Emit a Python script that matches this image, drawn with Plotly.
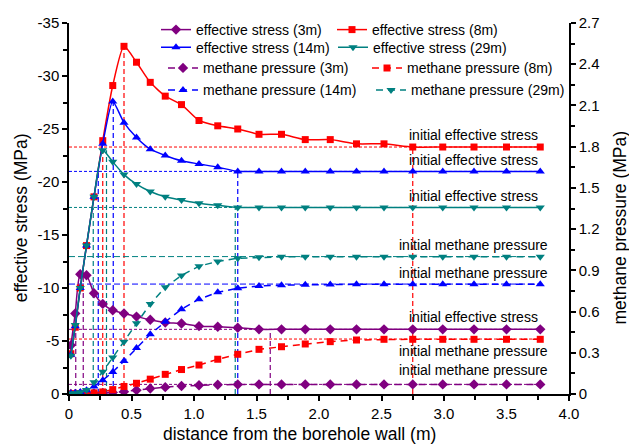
import plotly.graph_objects as go

# Distance from the borehole wall (m), shared by every series
distance = [0.015, 0.05, 0.09, 0.14, 0.20, 0.27, 0.35, 0.44, 0.54, 0.65, 0.77, 0.90, 1.04,
            1.19, 1.35, 1.52, 1.70, 1.89, 2.09, 2.30, 2.52, 2.75, 2.99, 3.24, 3.50, 3.77]

depths = ["3m", "8m", "14m", "29m"]

# Effective stress (MPa, compression negative)
stress_3m = [-4.6, -7.6, -11.3, -11.2, -9.5, -8.5, -7.9, -7.6, -7.3, -7.0, -6.75, -6.65, -6.4,
             -6.35, -6.25, -6.1, -6.1, -6.1, -6.1, -6.1, -6.1, -6.1, -6.1, -6.1, -6.1, -6.1]
stress_8m = [-3.8, -6.3, -10.0, -14.0, -18.6, -23.9, -29.1, -32.8, -31.3, -29.4, -28.1, -27.3, -25.8,
             -25.3, -25.0, -24.5, -24.5, -24.0, -24.0, -23.6, -23.6, -23.3, -23.3, -23.3, -23.3, -23.3]
stress_14m = [-3.7, -6.4, -10.0, -14.0, -18.6, -23.6, -27.6, -25.6, -24.2, -23.1, -22.5, -22.0, -21.7,
              -21.4, -21.0, -21.0, -21.0, -21.0, -21.0, -21.0, -21.0, -21.0, -21.0, -21.0, -21.0, -21.0]
stress_29m = [-3.6, -6.5, -10.0, -14.0, -18.6, -23.0, -21.9, -20.7, -19.8, -19.1, -18.6, -18.3, -18.0,
              -17.8, -17.6, -17.6, -17.6, -17.6, -17.6, -17.6, -17.6, -17.6, -17.6, -17.6, -17.6, -17.6]

# Methane pressure (MPa)
pressure_3m = [0.0, 0.0, 0.001, 0.002, 0.004, 0.007, 0.011, 0.017, 0.028, 0.040, 0.050, 0.058, 0.064,
               0.067, 0.069, 0.070, 0.070, 0.070, 0.070, 0.070, 0.070, 0.070, 0.070, 0.070, 0.070, 0.070]
pressure_8m = [0.0, 0.001, 0.002, 0.004, 0.008, 0.015, 0.032, 0.055, 0.078, 0.108, 0.143, 0.178, 0.211,
               0.253, 0.289, 0.325, 0.344, 0.364, 0.381, 0.393, 0.398, 0.398, 0.398, 0.398, 0.398, 0.398]
pressure_14m = [0.003, 0.008, 0.015, 0.028, 0.055, 0.100, 0.160, 0.240, 0.335, 0.435, 0.525, 0.617, 0.690,
                0.740, 0.770, 0.786, 0.792, 0.795, 0.797, 0.798, 0.798, 0.798, 0.798, 0.798, 0.798, 0.798]
pressure_29m = [0.003, 0.006, 0.012, 0.030, 0.085, 0.162, 0.265, 0.380, 0.515, 0.655, 0.776, 0.863, 0.930,
                0.965, 0.988, 0.995, 0.998, 0.998, 0.998, 0.998, 0.998, 0.998, 0.998, 0.998, 0.998, 0.998]

# Initial (far-field) values
initial_stress = [-6.1, -23.3, -21.0, -17.6]
initial_pressure = [0.07, 0.40, 0.80, 1.00]

# Positions of the reference verticals (m)
rise_x = [0.054, 0.27, 0.234, 0.194]      # stress first reaches the initial value
peak_x = [0.114, 0.44, 0.354, 0.30]       # stress peak
stable_x = [1.61, 2.75, 1.35, 1.33]       # stress settles back to the initial value

# Axis tick labels
x_ticks = [0, 0.5, 1.0, 1.5, 2.0, 2.5, 3.0, 3.5, 4.0]
x_ticktext = ["0", "0.5", "1.0", "1.5", "2.0", "2.5", "3.0", "3.5", "4.0"]
y_ticks = [0, -5, -10, -15, -20, -25, -30, -35]
y_ticktext = ["0", "-5", "-10", "-15", "-20", "-25", "-30", "-35"]
y2_ticks = [0, 0.3, 0.6, 0.9, 1.2, 1.5, 1.8, 2.1, 2.4, 2.7]
y2_ticktext = ["0", "0.3", "0.6", "0.9", "1.2", "1.5", "1.8", "2.1", "2.4", "2.7"]

stress = [stress_3m, stress_8m, stress_14m, stress_29m]
pressure = [pressure_3m, pressure_8m, pressure_14m, pressure_29m]

colors = ["#800080", "#FF0000", "#0000FF", "#008080"]
symbols = ["diamond", "square", "triangle-up", "triangle-down"]
msizes = [8, 7, 8, 8]
pressure_line_dash = ["3px,2px", "3px,2px", "6px,3px", "6px,3px"]

FONT = "Arial, Liberation Sans, sans-serif"

# one legend per row of the two-column key
stress_legends = ["legend", "legend", "legend2", "legend2"]
pressure_legends = ["legend3", "legend3", "legend4", "legend4"]

fig = go.Figure()

for i in range(4):
    fig.add_trace(go.Scatter(
        x=distance, y=stress[i], mode="lines+markers",
        name=f"effective stress ({depths[i]})",
        line=dict(color=colors[i], width=1.5, shape="spline", smoothing=0.6),
        marker=dict(symbol=symbols[i], size=msizes[i], color=colors[i]),
        legend=stress_legends[i],
    ))

for i in range(4):
    fig.add_trace(go.Scatter(
        x=distance, y=pressure[i], yaxis="y2", mode="lines+markers",
        name=f"methane pressure ({depths[i]})",
        line=dict(color=colors[i], width=1.5, dash="7px,5px"),
        marker=dict(symbol=symbols[i], size=msizes[i], color=colors[i]),
        legend=pressure_legends[i],
    ))

shapes = []
x_end = distance[-1]
for i in range(4):
    c = colors[i]
    # initial effective stress level
    shapes.append(dict(type="line", xref="x", yref="y", x0=0, x1=x_end,
                       y0=initial_stress[i], y1=initial_stress[i], layer="below",
                       line=dict(color=c, width=1, dash="3px,2px")))
    # initial methane pressure level
    shapes.append(dict(type="line", xref="x", yref="y2", x0=0, x1=x_end,
                       y0=initial_pressure[i], y1=initial_pressure[i], layer="below",
                       line=dict(color=c, width=1, dash=pressure_line_dash[i])))
    peak_val = min(stress[i])
    for xv, top in ((rise_x[i], initial_stress[i]), (peak_x[i], peak_val),
                    (stable_x[i], initial_stress[i])):
        shapes.append(dict(type="line", xref="x", yref="y", x0=xv, x1=xv,
                           y0=0, y1=top, layer="below",
                           line=dict(color=c, width=1.2, dash="5px,3px")))

annotations = []
label_x = 3.232
# labels above / below the initial-value lines
label_specs = [
    ("initial effective stress", "y", initial_stress[1], 12),
    ("initial effective stress", "y", initial_stress[2], 11),
    ("initial effective stress", "y", initial_stress[3], 11),
    ("initial methane pressure", "y2", initial_pressure[3], 12),
    ("initial methane pressure", "y2", initial_pressure[2], 11),
    ("initial effective stress", "y", initial_stress[0], 12),
    ("initial methane pressure", "y2", initial_pressure[1], -12),
    ("initial methane pressure", "y2", initial_pressure[0], 14),
]
for text, yref, yv, shift in label_specs:
    annotations.append(dict(text=text, x=label_x, y=yv, xref="x", yref=yref,
                            yshift=shift, showarrow=False, xanchor="center",
                            yanchor="middle", font=dict(size=14, color="black", family=FONT)))

# axis titles
annotations.append(dict(text="effective stress (MPa)", xref="paper", yref="paper",
                        x=-0.096, y=0.4736, textangle=-90, showarrow=False,
                        xanchor="center", yanchor="middle",
                        font=dict(size=17.5, color="black", family=FONT)))
annotations.append(dict(text="methane pressure (MPa)", xref="paper", yref="paper",
                        x=1.102, y=0.4488, textangle=-90, showarrow=False,
                        xanchor="center", yanchor="middle",
                        font=dict(size=17.5, color="black", family=FONT)))
annotations.append(dict(text="distance from the borehole wall (m)", xref="paper", yref="paper",
                        x=0.461, y=-0.1078, showarrow=False,
                        xanchor="center", yanchor="middle",
                        font=dict(size=17.5, color="black", family=FONT)))

axis_common = dict(showline=True, linecolor="black", linewidth=1.5, ticks="outside",
                   ticklen=5, tickwidth=1.5, tickcolor="black", showgrid=False,
                   zeroline=False, tickfont=dict(size=15, color="black", family=FONT))


def legend_row(text_left, row_center, entry_w):
    """Horizontal one-row legend: text_left is the pixel where the first label starts."""
    return dict(orientation="h", x=(text_left - 40 - 69) / 500,
                y=(394 - (row_center - 10)) / 371,
                xanchor="left", yanchor="top", entrywidth=entry_w, entrywidthmode="pixels",
                bgcolor="rgba(0,0,0,0)", borderwidth=0, traceorder="normal",
                font=dict(size=14, color="black", family=FONT))


fig.update_layout(
    width=629, height=444,
    margin=dict(l=69, r=60, t=23, b=50, autoexpand=False),
    paper_bgcolor="white", plot_bgcolor="white",
    font=dict(family=FONT, color="black"),
    xaxis=dict(range=[0, 4], tickmode="array", tickvals=x_ticks, ticktext=x_ticktext,
               minor=dict(dtick=0.25, tick0=0, ticks="outside", ticklen=4, tickwidth=1.5,
                          tickcolor="black"),
               **axis_common),
    yaxis=dict(range=[0, -35], tickmode="array", tickvals=y_ticks, ticktext=y_ticktext,
               minor=dict(dtick=2.5, tick0=0, ticks="outside", ticklen=4, tickwidth=1.5,
                          tickcolor="black"),
               **axis_common),
    yaxis2=dict(range=[0, 2.7], overlaying="y", side="right", tickmode="array",
                tickvals=y2_ticks, ticktext=y2_ticktext,
                minor=dict(dtick=0.15, tick0=0, ticks="outside", ticklen=4, tickwidth=1.5,
                           tickcolor="black"),
                **axis_common),
    shapes=shapes,
    annotations=annotations,
    showlegend=True,
    legend=legend_row(196, 24, 131),
    legend2=legend_row(196, 41.7, 132),
    legend3=legend_row(203, 62.3, 159),
    legend4=legend_row(203, 84.3, 163),
)

fig.write_html("out.html")
